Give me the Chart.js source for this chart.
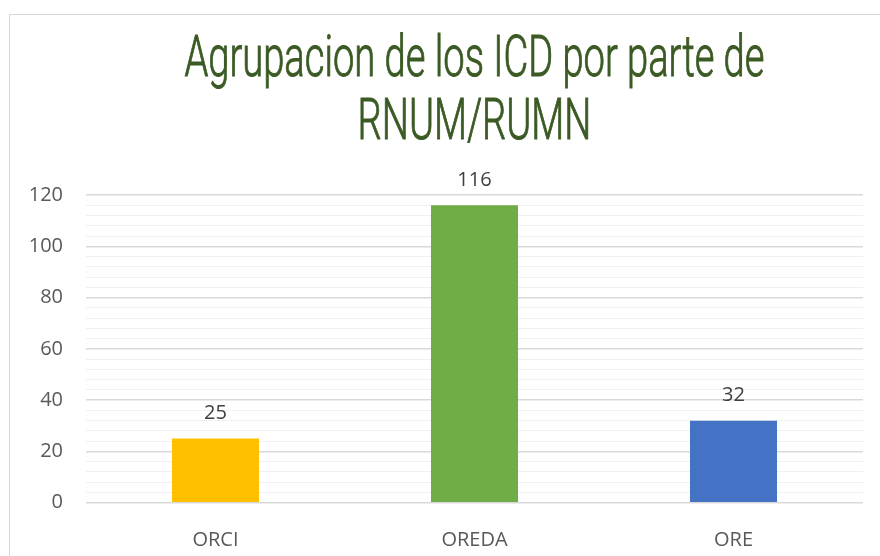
<!DOCTYPE html>
<html>
<head>
<meta charset="utf-8">
<script src="https://cdn.jsdelivr.net/npm/chart.js@4.4.1/dist/chart.umd.min.js"></script>
<style>
    body { margin: 0; background: #fff; overflow: hidden; }
    #frame {
        position: absolute; left: 9px; top: 14px;
        width: 900px; height: 600px;
        border-left: 1px solid #d9d9d9; border-top: 1px solid #d9d9d9;
    }
    #chartWrap { position: relative; width: 870px; height: 541px; }
</style>
</head>
<body>
<div id="frame">
    <div id="chartWrap"><canvas id="icdChart"></canvas></div>
</div>
<script>
// datos del grafico
const titleLines = ['Agrupacion de los ICD por parte de', 'RNUM/RUMN'];
const categories = ['ORCI', 'OREDA', 'ORE'];
const values = [25, 116, 32];
const barColors = ['#FFC000', '#70AD47', '#4472C4'];
const yTicks = [0, 20, 40, 60, 80, 100, 120];

const labelFont = {family: "'Open Sans', sans-serif", size: 20};

// titulo estrecho (tipo Agency FB), se comprime en horizontal
const titlePlugin = {
    id: 'narrowTitle',
    afterDraw(chart) {
        const ctx = chart.ctx;
        ctx.save();
        ctx.font = '300 58px Roboto, sans-serif';
        ctx.fillStyle = '#3b5a24';
        ctx.strokeStyle = '#3b5a24';
        ctx.lineWidth = 1;
        ctx.textAlign = 'center';
        ctx.textBaseline = 'alphabetic';
        const sx = 580 / ctx.measureText(titleLines[0]).width;
        const cx = (chart.chartArea.left + chart.chartArea.right) / 2;
        const baselines = [61, 124];
        titleLines.forEach((line, i) => {
            ctx.save();
            ctx.translate(cx, baselines[i]);
            ctx.scale(sx, 1);
            ctx.fillText(line, 0, 0);
            ctx.strokeText(line, 0, 0);
            ctx.restore();
        });
        ctx.restore();
    }
};

// etiquetas de valor encima de las barras
const valueLabels = {
    id: 'valueLabels',
    afterDatasetsDraw(chart) {
        const ctx = chart.ctx;
        ctx.save();
        ctx.font = "20px 'Open Sans', sans-serif";
        ctx.fillStyle = '#404040';
        ctx.textAlign = 'center';
        ctx.textBaseline = 'middle';
        chart.getDatasetMeta(0).data.forEach((bar, i) => {
            ctx.fillText(values[i], bar.x, bar.y - 25);
        });
        ctx.restore();
    }
};

new Chart(document.getElementById('icdChart'), {
    type: 'bar',
    data: {
        labels: categories,
        datasets: [{
            data: values,
            backgroundColor: barColors,
            borderWidth: 0,
            barPercentage: 0.336,
            categoryPercentage: 1,
        }],
    },
    options: {
        responsive: true,
        maintainAspectRatio: false,
        animation: false,
        layout: {padding: {top: 180, right: 17, left: 0, bottom: 0}},
        plugins: {
            legend: {display: false},
            title: {display: false},
            tooltip: {enabled: false},
        },
        scales: {
            x: {
                grid: {display: false},
                border: {display: false},
                ticks: {color: '#595959', font: labelFont, padding: 18},
                afterFit: (scale) => { scale.height = 53.3; },
            },
            y: {
                min: 0,
                max: 120,
                border: {display: false},
                grid: {
                    drawTicks: false,
                    color: (c) => yTicks.includes(c.tick.value) ? '#d9d9d9' : '#f0f0f0',
                    lineWidth: (c) => yTicks.includes(c.tick.value) ? 1.5 : 1,
                },
                ticks: {
                    stepSize: 4,
                    autoSkip: false,
                    color: '#595959',
                    font: labelFont,
                    padding: 23,
                    callback: (v) => yTicks.includes(v) ? v : '',
                },
                afterFit: (scale) => { scale.width = 76; },
            },
        },
    },
    plugins: [titlePlugin, valueLabels],
});
</script>
</body>
</html>
